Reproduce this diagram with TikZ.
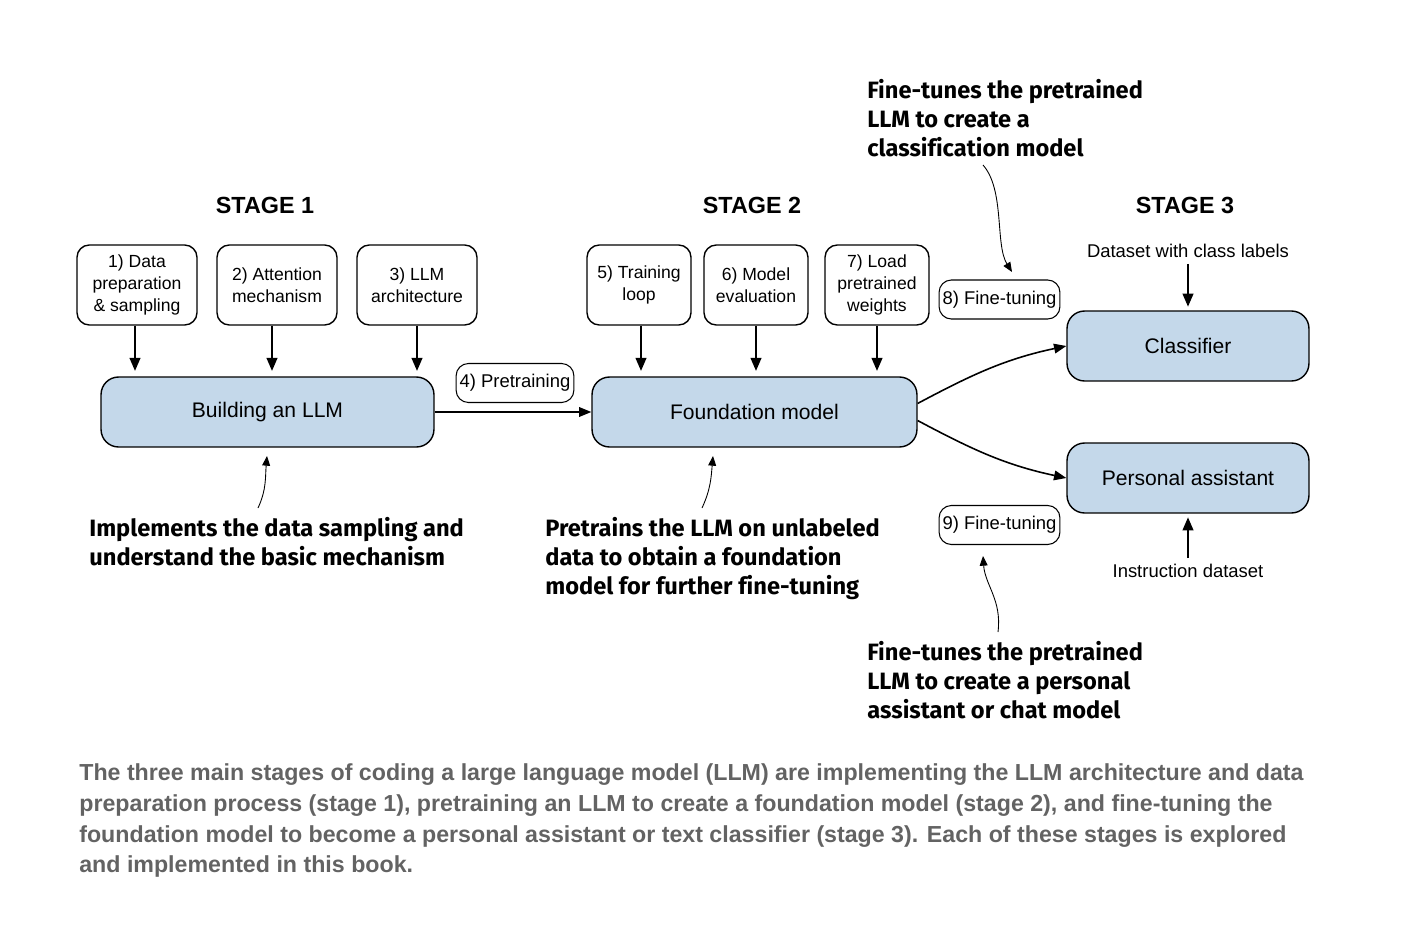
\documentclass[tikz,border=0pt]{standalone}
\usepackage{fontspec}
\setmainfont{Liberation Sans}
\newfontfamily\notefont[Ligatures=NoCommon]{Fira Sans}
\usetikzlibrary{arrows.meta}

\definecolor{boxblue}{HTML}{C4D8EA}
\definecolor{captiongray}{HTML}{636363}

\tikzset{
  stepbox/.style={draw=black, thick, rounded corners=7pt, minimum height=1.6cm, align=center, inner sep=1pt, font=\fontsize{10}{12.4}\selectfont},
  mainbox/.style={draw=black, thick, fill=boxblue, rounded corners=10pt, minimum height=1.4cm, font=\fontsize{12}{14}\selectfont},
  tagbox/.style={draw=black, semithick, rounded corners=7pt, minimum height=0.78cm, inner xsep=2pt, font=\fontsize{10.5}{12}\selectfont},
  stagelabel/.style={font=\bfseries\fontsize{13.3}{16}\selectfont},
  plainlabel/.style={font=\fontsize{10.5}{12}\selectfont},
  note/.style={anchor=north west, align=left, inner sep=0pt, font=\notefont\bfseries\fontsize{13.45}{16.4}\selectfont},
  feed/.style={-{Triangle[length=7.5pt,width=6pt]}, line width=1.4pt},
  flow/.style={-{Triangle[length=7pt,width=5.5pt]}, line width=0.9pt},
  hint/.style={-{Triangle[length=5.5pt,width=4.5pt]}, line width=0.5pt},
}

\begin{document}
\begin{tikzpicture}[x=0.02cm, y=-0.02cm]
	\useasboundingbox (0,0) rectangle (1407,936);
	% stage labels
	\node[stagelabel] (stage1) at (265,205) {STAGE 1};
	\node[stagelabel] (stage2) at (752,205) {STAGE 2};
	\node[stagelabel] (stage3) at (1185,205) {STAGE 3};
	% stage 1
	\node[stepbox, minimum width=2.4cm] (data) at (137,285) {1) Data\\preparation\\\& sampling};
	\node[stepbox, minimum width=2.4cm] (attn) at (277,285) {2) Attention\\mechanism};
	\node[stepbox, minimum width=2.4cm] (arch) at (417,285) {3) LLM\\architecture};
	\node[mainbox, minimum width=6.66cm] (build) at (267.5,412) {Building an LLM};
	\draw[feed, shorten >=3pt] (data.south -| 135,0) -- (build.north -| 135,0);
	\draw[feed, shorten >=3pt] (attn.south -| 272,0) -- (build.north -| 272,0);
	\draw[feed, shorten >=3pt] (arch.south) -- (arch.south |- build.north);
	% stage 2
	\node[stepbox, minimum width=2.08cm] (train) at (639,285) {5) Training\\loop};
	\node[stepbox, minimum width=2.08cm] (eval) at (756,285) {6) Model\\evaluation};
	\node[stepbox, minimum width=2.08cm] (load) at (877,285) {7) Load\\pretrained\\weights};
	\node[mainbox, minimum width=6.5cm] (found) at (754.5,412) {Foundation model};
	\draw[feed, shorten >=3pt] (train.south -| 641,0) -- (found.north -| 641,0);
	\draw[feed, shorten >=3pt] (eval.south) -- (eval.south |- found.north);
	\draw[feed, shorten >=3pt] (load.south) -- (load.south |- found.north);
	\node[tagbox] (pretrain) at (515,383) {4) Pretraining};
	\draw[flow] (build.east) -- (found.west);
	% stage 3
	\node[mainbox, minimum width=4.84cm] (classifier) at (1188,346) {Classifier};
	\node[mainbox, minimum width=4.84cm] (assistant) at (1188,478) {Personal assistant};
	\node[plainlabel] (classdata) at (1188,251) {Dataset with class labels};
	\node[plainlabel] (instrdata) at (1188,571) {Instruction dataset};
	\draw[feed, shorten >=2pt] (classdata.south) -- (classifier.north);
	\draw[feed, shorten >=2pt] (instrdata.north) -- (assistant.south);
	\node[tagbox] (tune8) at (999.5,299.5) {8) Fine-tuning};
	\node[tagbox] (tune9) at (999.5,525) {9) Fine-tuning};
	\draw[flow] (found.3) to[out=28,in=192] (classifier.west);
	\draw[flow] (found.-3) to[out=-28,in=168] (assistant.west);
	% notes
	\node[note] (noteTop) at (867,79) {Fine-tunes the pretrained\\LLM to create a\\classification model};
	\node[note] (noteBuild) at (89,517) {Implements the data sampling and\\understand the basic mechanism};
	\node[note] (noteFound) at (545,517) {Pretrains the LLM on unlabeled\\data to obtain a foundation\\model for further fine-tuning};
	\node[note] (noteChat) at (867,641) {Fine-tunes the pretrained\\LLM to create a personal\\assistant or chat model};
	\coordinate (hintTopA) at (983,165);
	\coordinate (hintTopB) at (1012,272);
	\coordinate (hintBuildA) at (258,508);
	\coordinate (hintBuildB) at (267,456);
	\coordinate (hintFoundA) at (702,508);
	\coordinate (hintFoundB) at (713,456);
	\coordinate (hintChatA) at (998,632);
	\coordinate (hintChatB) at (983,556);
	\draw[hint] (hintTopA) .. controls (1005,190) and (995,245) .. (hintTopB);
	\draw[hint] (hintBuildA) to[out=65,in=-95] (hintBuildB);
	\draw[hint] (hintFoundA) to[out=65,in=-95] (hintFoundB);
	\draw[hint] (hintChatA) .. controls (1002,600) and (985,585) .. (hintChatB);
	% caption
	\node[anchor=north west, align=left, inner sep=0pt, text=captiongray, font=\bfseries\fontsize{13.2}{17.6}\selectfont] (caption) at (79,763)
		{The three main stages of coding a large language model (LLM) are implementing the LLM architecture and data\\
		preparation process (stage 1), pretraining an LLM to create a foundation model (stage 2), and fine-tuning the\\
		foundation model to become a personal assistant or text classifier (stage 3). Each of these stages is explored\\
		and implemented in this book.};
\end{tikzpicture}
\end{document}
